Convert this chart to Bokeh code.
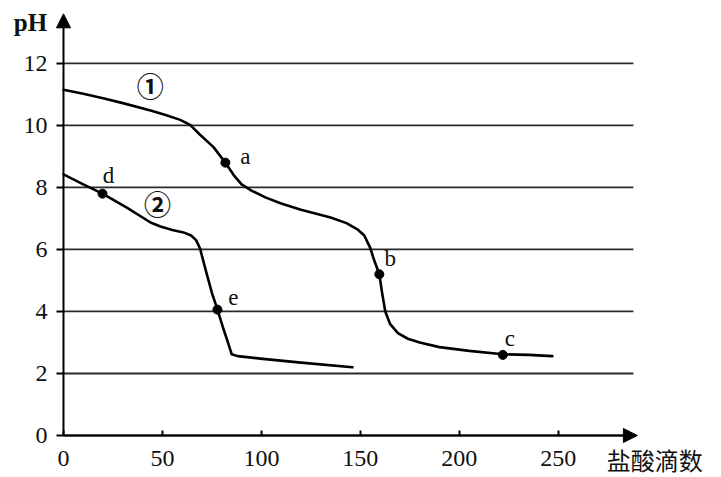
from bokeh.plotting import figure
from bokeh.embed import file_html
from bokeh.resources import INLINE
from bokeh.models import ColumnDataSource, FixedTicker, Arrow, NormalHead, Label
from bokeh.core.properties import value

# ---- data ----
curve1_x = [0, 10, 20, 30, 44, 52, 59, 64, 69, 75.8, 81.8, 86, 90, 95, 102, 110, 120, 135, 143, 148.5, 152, 155, 157, 159.6, 161, 162.6, 165, 169, 174, 180, 190, 205, 222, 235, 247]
curve1_y = [11.15, 11.02, 10.88, 10.72, 10.48, 10.33, 10.18, 10.02, 9.7, 9.3, 8.8, 8.4, 8.1, 7.9, 7.68, 7.48, 7.28, 7.03, 6.85, 6.65, 6.45, 6.05, 5.65, 5.2, 4.6, 4.0, 3.6, 3.3, 3.12, 3.0, 2.85, 2.73, 2.62, 2.6, 2.56]

curve2_x = [0, 10, 19.7, 32, 44, 49, 55, 60.6, 64.5, 67, 69, 72, 75, 77.8, 80.5, 82.8, 85, 88, 99.5, 120, 146]
curve2_y = [8.42, 8.1, 7.8, 7.35, 6.87, 6.74, 6.63, 6.55, 6.45, 6.3, 6.03, 5.3, 4.6, 4.06, 3.5, 3.06, 2.62, 2.56, 2.48, 2.35, 2.2]

point_names = ["a", "b", "c", "d", "e"]
point_x = [81.8, 159.6, 222, 19.7, 77.8]
point_y = [8.8, 5.2, 2.6, 7.8, 4.06]

curve_names = ["①", "②"]
curve_label_x = [43.9, 47.5]
curve_label_y = [11.29, 7.48]

x_ticks = [0, 50, 100, 150, 200, 250]
y_ticks = [0, 2, 4, 6, 8, 10, 12]
x_title = "盐酸滴数"
y_title = "pH"

x_max = 290     # end of x axis arrow
y_max = 13.6    # end of y axis arrow

# ---- styles / positions ----
label_dx = [20, 11, 7, 6, 16]
label_dy = [-6, -16, -16, -18, -12]

SERIF = "'Liberation Serif', 'Times New Roman', Times, serif"
CJK = "'Noto Sans CJK SC', sans-serif"

# the frame covers the whole canvas; axes are fixed at the origin
p = figure(width=721, height=477, x_range=(-31.83, 332.5), y_range=(-1.355, 14.03),
           output_backend="svg", toolbar_location=None,
           min_border=0, min_border_left=0, min_border_right=0,
           min_border_top=0, min_border_bottom=0)
p.outline_line_color = None
p.background_fill_color = "white"
p.xgrid.visible = False
p.ygrid.visible = False

# horizontal reference lines
p.segment(x0=[0] * len(y_ticks), y0=y_ticks, x1=[x_max - 2] * len(y_ticks), y1=y_ticks,
          line_color="#2b2b2b", line_width=1.8)

# axes
for ax in (p.xaxis[0], p.yaxis[0]):
    ax.fixed_location = 0
    ax.axis_line_color = None
    ax.major_tick_line_color = "black"
    ax.major_tick_line_width = 2
    ax.minor_tick_line_color = None
    ax.major_label_text_font = SERIF
    ax.major_label_text_font_size = "24px"
    ax.major_label_text_color = "#111111"

p.xaxis.ticker = FixedTicker(ticks=x_ticks)
p.xaxis.bounds = (0, x_max)
p.xaxis.major_tick_in = 5
p.xaxis.major_tick_out = 0
p.xaxis.major_label_standoff = 16

p.yaxis.ticker = FixedTicker(ticks=y_ticks)
p.yaxis.bounds = (0, y_max)
p.yaxis.major_tick_in = 0
p.yaxis.major_tick_out = 7
p.yaxis.major_label_standoff = 9

# axis arrows
p.add_layout(Arrow(end=NormalHead(size=14, fill_color="black", line_color="black"),
                   x_start=0, y_start=0, x_end=0, y_end=y_max, line_width=2, line_color="black"))
p.add_layout(Arrow(end=NormalHead(size=14, fill_color="black", line_color="black"),
                   x_start=0, y_start=0, x_end=x_max, y_end=0, line_width=2, line_color="black"))

# curves
p.line(curve1_x, curve1_y, line_color="black", line_width=2.6, line_join="round", line_cap="round")
p.line(curve2_x, curve2_y, line_color="black", line_width=2.6, line_join="round", line_cap="round")

# points
pts = ColumnDataSource(dict(x=point_x, y=point_y, name=point_names, dx=label_dx, dy=label_dy))
p.scatter("x", "y", source=pts, size=9, color="black")
p.text("x", "y", text="name", source=pts, x_offset="dx", y_offset="dy",
       text_font=value(SERIF), text_font_size="23px", text_align="center",
       text_baseline="middle", text_color="#111111")

# curve labels
p.text(curve_label_x, curve_label_y, text=curve_names, text_font=value(CJK),
       text_font_size="27px", text_font_style="bold", text_align="center",
       text_baseline="middle", text_color="#111111")

# axis titles
p.add_layout(Label(x=274.5, y=-0.78, text=x_title, text_font=CJK, text_font_size="24px",
                   text_baseline="middle", text_align="left", text_color="#111111"))
p.add_layout(Label(x=-16.7, y=13.32, text=y_title, text_font=SERIF, text_font_size="25px",
                   text_font_style="bold", text_baseline="middle", text_align="center",
                   text_color="#111111"))

open("out.html", "w").write(file_html(p, INLINE))
